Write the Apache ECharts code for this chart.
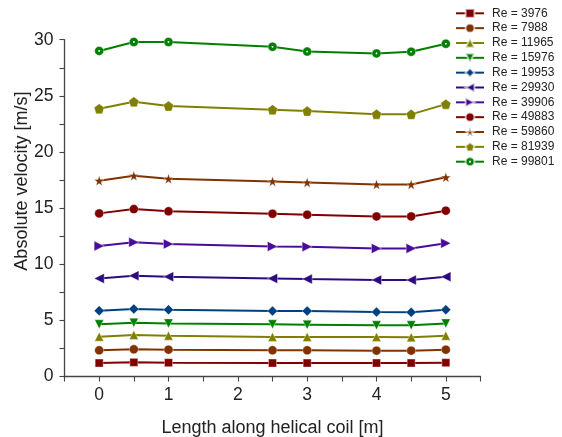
<!DOCTYPE html>
<html>
<head>
<meta charset="utf-8">
<script src="https://cdn.jsdelivr.net/npm/echarts@6/dist/echarts.min.js"></script>
<style>
  html, body { margin: 0; padding: 0; background: #fff; }
  #chart { width: 562px; height: 437px; }
</style>
</head>
<body>
<div id="chart"></div>
<script>
// Positions along the coil [m]
const positions = [0, 0.5, 1, 2.5, 3, 4, 4.5, 5];

// Absolute velocity [m/s] for each Reynolds number
const re3976  = [1.20, 1.26, 1.23, 1.20, 1.20, 1.20, 1.20, 1.23];
const re7988  = [2.33, 2.42, 2.39, 2.33, 2.33, 2.30, 2.30, 2.39];
const re11965 = [3.55, 3.70, 3.64, 3.52, 3.52, 3.52, 3.49, 3.64];
const re15976 = [4.65, 4.79, 4.73, 4.65, 4.62, 4.56, 4.56, 4.73];
const re19953 = [5.86, 6.01, 5.95, 5.83, 5.83, 5.74, 5.72, 5.95];
const re29930 = [8.74, 8.98, 8.89, 8.74, 8.68, 8.59, 8.59, 8.89];
const re39906 = [11.62, 11.95, 11.80, 11.59, 11.56, 11.41, 11.41, 11.86];
const re49883 = [14.53, 14.91, 14.71, 14.50, 14.41, 14.26, 14.26, 14.77];
const re59860 = [17.44, 17.88, 17.62, 17.38, 17.29, 17.11, 17.11, 17.74];
const re81939 = [23.85, 24.47, 24.09, 23.76, 23.64, 23.37, 23.35, 24.26];
const re99801 = [29.00, 29.80, 29.80, 29.37, 28.94, 28.78, 28.93, 29.64];

const seriesNames = ['Re = 3976', 'Re = 7988', 'Re = 11965', 'Re = 15976', 'Re = 19953',
  'Re = 29930', 'Re = 39906', 'Re = 49883', 'Re = 59860', 'Re = 81939', 'Re = 99801'];
const seriesValues = [re3976, re7988, re11965, re15976, re19953, re29930, re39906,
  re49883, re59860, re81939, re99801];

// Tick labels
const xTickLabels = ['0', '1', '2', '3', '4', '5'];
const yTickLabels = ['0', '5', '10', '15', '20', '25', '30'];

const STAR = 'path://M0,-10 L2.35,-3.24 L9.51,-3.09 L3.80,1.24 L5.88,8.09 L0,4 L-5.88,8.09 L-3.80,1.24 L-9.51,-3.09 L-2.35,-3.24 Z';
const PENTAGON = 'path://M0,-10 L9.51,-3.09 L5.88,8.09 L-5.88,8.09 L-9.51,-3.09 Z';

const styles = [
  { color: '#800000', symbol: 'rect', size: 8, rotate: 0 },
  { color: '#803300', symbol: 'circle', size: 9, rotate: 0 },
  { color: '#808000', symbol: 'triangle', size: 9, rotate: 0 },
  { color: '#008000', symbol: 'triangle', size: 9, rotate: 180 },
  { color: '#004080', symbol: 'diamond', size: 10, rotate: 0 },
  { color: '#2e0a80', symbol: 'triangle', size: 10, rotate: 90 },
  { color: '#4b0a9a', symbol: 'triangle', size: 10, rotate: -90 },
  { color: '#800000', symbol: 'circle', size: 9, rotate: 0 },
  { color: '#803300', symbol: STAR, size: 10, rotate: 0 },
  { color: '#808000', symbol: PENTAGON, size: 10, rotate: 0 },
  { color: '#008000', symbol: 'circle', size: 9, rotate: 0, dotted: true }
];

const FONT = 'Liberation Sans, Arial, sans-serif';

const series = seriesNames.map((name, i) => {
  const s = styles[i];
  const fill = s.dotted ? {
    type: 'radial', x: 0.5, y: 0.5, r: 0.5,
    colorStops: [
      { offset: 0, color: '#ffffff' },
      { offset: 0.1, color: '#ffffff' },
      { offset: 0.28, color: s.color },
      { offset: 1, color: s.color }
    ]
  } : s.color;
  return {
    name: name,
    type: 'line',
    data: positions.map((x, j) => [x, seriesValues[i][j]]),
    symbol: s.symbol,
    symbolSize: s.size,
    symbolRotate: s.rotate,
    showAllSymbol: true,
    lineStyle: { color: s.color, width: 2 },
    itemStyle: { color: fill, borderColor: 'rgba(255,255,255,0.6)', borderWidth: 0.6 },
    color: s.color,
    animation: false,
    z: 2 + i
  };
});

const chart = echarts.init(document.getElementById('chart'), null, { renderer: 'canvas' });
chart.setOption({
  backgroundColor: '#ffffff',
  animation: false,
  textStyle: { fontFamily: FONT },
  grid: {
    left: 64.5, right: 81.5, top: 39.7, bottom: 60.5,
    containLabel: false,
    outerBoundsMode: 'none'
  },
  legend: {
    orient: 'vertical',
    left: 455,
    top: 7.3,
    padding: 0,
    itemWidth: 28,
    itemHeight: 11,
    itemGap: 2.84,
    data: seriesNames,
    textStyle: { fontFamily: FONT, fontSize: 12, color: '#222', lineHeight: 12, padding: [0, 0, 0, 3] }
  },
  xAxis: {
    type: 'value',
    min: -0.5,
    max: 5.5,
    interval: 0.5,
    name: 'Length along helical coil [m]',
    nameLocation: 'middle',
    nameGap: 43,
    nameMoveOverlap: false,
    nameTextStyle: { fontFamily: FONT, fontSize: 18, color: '#222' },
    axisLine: { show: true, onZero: false, lineStyle: { color: '#444', width: 1.3 } },
    axisTick: { show: true, inside: false, length: 5, lineStyle: { color: '#444', width: 1.1 } },
    axisLabel: {
      fontFamily: FONT, fontSize: 17.5, color: '#222', margin: 10,
      formatter: v => xTickLabels.includes(String(v)) ? String(v) : ''
    },
    splitLine: { show: false }
  },
  yAxis: {
    type: 'value',
    min: 0,
    max: 30,
    interval: 2.5,
    name: 'Absolute velocity [m/s]',
    nameLocation: 'middle',
    nameGap: 33,
    nameMoveOverlap: false,
    nameTextStyle: { fontFamily: FONT, fontSize: 18, color: '#222', padding: [0, 0, 0, 54] },
    axisLine: { show: true, onZero: false, lineStyle: { color: '#444', width: 1.3 } },
    axisTick: { show: true, inside: false, length: 5, lineStyle: { color: '#444', width: 1.1 } },
    axisLabel: {
      fontFamily: FONT, fontSize: 17.5, color: '#222', margin: 11,
      formatter: v => yTickLabels.includes(String(v)) ? String(v) : ''
    },
    splitLine: { show: false }
  },
  series: series
});
</script>
</body>
</html>
